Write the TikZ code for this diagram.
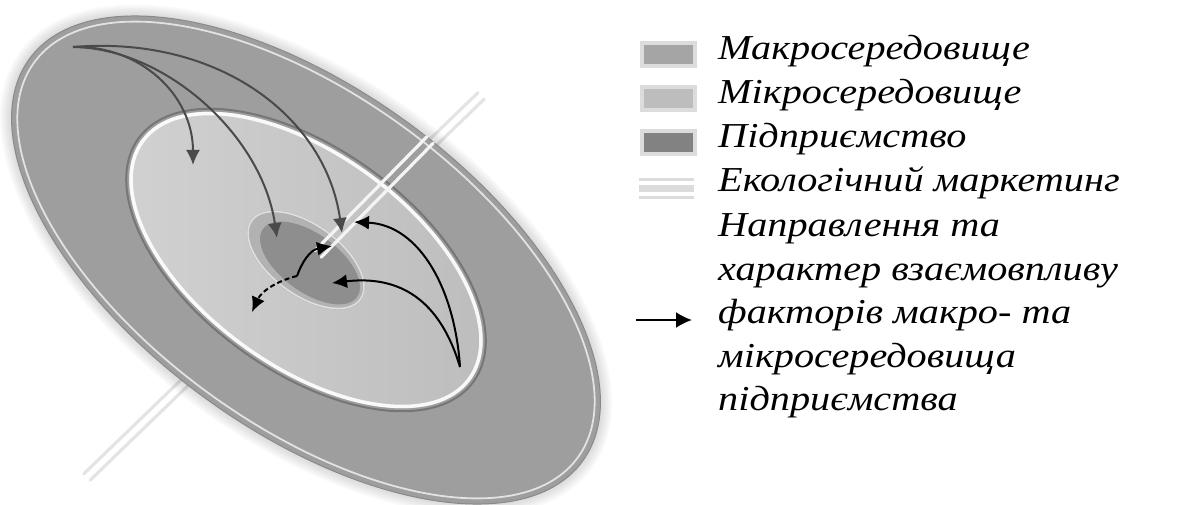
\documentclass[tikz,border=0pt]{standalone}
\usepackage{fontspec}
\setmainfont[FakeStretch=1.15]{Liberation Serif}
\usetikzlibrary{arrows.meta,calc}
\definecolor{macro}{HTML}{9E9E9E}
\definecolor{macroedge}{HTML}{8A8A8A}
\definecolor{microA}{HTML}{D2D2D2}
\definecolor{microB}{HTML}{BCBCBC}
\definecolor{entrim}{HTML}{B2B2B2}
\definecolor{ent}{HTML}{8E8E8E}
\definecolor{legborder}{HTML}{DCDCDC}
\definecolor{lmacro}{HTML}{A5A5A5}
\definecolor{lmicro}{HTML}{BDBDBD}
\definecolor{lent}{HTML}{828282}
\definecolor{arrgray}{HTML}{4A4A4A}
\definecolor{rodfaint}{HTML}{E4E4E4}
\definecolor{rodfront}{HTML}{F4F4F4}
\tikzset{
  legbox/.style={draw=legborder, line width=4pt, minimum width=53pt, minimum height=23pt, inner sep=0pt},
  legtext/.style={anchor=base west, inner sep=0pt, font=\fontsize{35}{44}\selectfont\itshape},
  grayarrow/.style={draw=arrgray, line width=2pt, -{Latex[length=15pt,width=14pt]}},
  blackarrow/.style={draw=black, line width=2pt, -{Latex[length=15pt,width=14pt]}},
  rodline/.style={line width=3.2pt, line cap=round},
}
\begin{document}
\begin{tikzpicture}[x=1pt,y=-1pt]
\useasboundingbox (0,0) rectangle (1193,505);
% rod coordinates
\coordinate (U) at (481,96);
\coordinate (L) at (87,477);
\coordinate (E) at (430,140);
\coordinate (C) at (318,254);
% rod, behind the disc
\draw[rodline, rodfaint] ($(U)!4.5pt!90:(L)$) -- ($(L)!4.5pt!-90:(U)$);
\draw[rodline, rodfaint] ($(U)!4.5pt!-90:(L)$) -- ($(L)!4.5pt!90:(U)$);
% disc
\begin{scope}[shift={(306,260)}, rotate=-36]
  \foreach \k in {1,...,6}
    \fill[black, opacity=0.025] (0,0) ellipse [x radius={342pt+\k*2pt}, y radius={171pt+\k*2pt}];
  \fill[macro] (0,0) ellipse [x radius=342pt, y radius=171pt];
  \draw[macroedge, line width=1pt] (0,0) ellipse [x radius=342pt, y radius=171pt];
  \draw[white, opacity=0.7, line width=1.8pt] (0,0) ellipse [x radius=336pt, y radius=165pt];
  \draw[black, opacity=0.25, line width=2pt] (0,0) ellipse [x radius=207pt, y radius=111pt];
  \shade[left color=microA, right color=microB] (0,0) ellipse [x radius=204pt, y radius=108pt];
  \draw[white, opacity=0.9, line width=3.5pt] (0,0) ellipse [x radius=202pt, y radius=106pt];
  \fill[entrim] (0,0) ellipse [x radius=68pt, y radius=36pt];
  \draw[white, opacity=0.6, line width=1.5pt] (0,0) ellipse [x radius=67pt, y radius=35pt];
\end{scope}
\fill[ent, rotate around={-36:(310,263)}] (310,263) ellipse [x radius=58pt, y radius=29pt];
% rod in front
\draw[rodline, rodfront] ($(E)!4.5pt!90:(L)$) -- ($(C)!4.5pt!-90:(U)$);
\draw[rodline, rodfront] ($(E)!4.5pt!-90:(L)$) -- ($(C)!4.5pt!90:(U)$);
% arrows from macro environment
\coordinate (src) at (73,47);
\coordinate (t1) at (193,165);
\coordinate (t2) at (277,238);
\coordinate (t3) at (342,233);
\draw[grayarrow] (src) .. controls (140,45) and (193,95) .. (t1);
\draw[grayarrow] (src) .. controls (165,48) and (262,135) .. (t2);
\draw[grayarrow] (src) .. controls (220,35) and (326,118) .. (t3);
% arrows from the micro environment
\coordinate (rsrc) at (460,367);
\coordinate (t4) at (354,222);
\coordinate (t5) at (332,283);
\draw[blackarrow] (rsrc) .. controls (455,290) and (420,225) .. (t4);
\draw[blackarrow] (rsrc) .. controls (440,300) and (400,275) .. (t5);
% enterprise outward
\coordinate (m) at (297,276);
\coordinate (t6) at (332,246);
\coordinate (t7) at (252,312);
\draw[blackarrow] (m) .. controls (302,262) and (310,250) .. (t6);
\draw[blackarrow, dash pattern=on 5pt off 3pt] (m) .. controls (280,280) and (262,290) .. (t7);
% legend
\node[legbox, fill=lmacro] (k1) at (668.5,54.5) {};
\node[legbox, fill=lmicro] (k2) at (668.5,98.5) {};
\node[legbox, fill=lent] (k3) at (668.5,142.5) {};
\draw[legborder, line width=3pt] (639,179.5) -- (694,179.5);
\draw[legborder, line width=7pt] (639,188.5) -- (694,188.5);
\draw[legborder, line width=3pt] (639,197.5) -- (694,197.5);
\coordinate (la1) at (636,320);
\coordinate (la2) at (692,320);
\draw[black, line width=2pt, -{Latex[length=16pt,width=16pt]}] (la1) -- (la2);
\node[legtext] (l1) at (718,60) {Макросередовище};
\node[legtext] (l2) at (718,104) {Мікросередовище};
\node[legtext] (l3) at (718,148) {Підприємство};
\node[legtext] (l4) at (718,192) {Екологічний маркетинг};
\node[legtext] (l5) at (718,236) {Направлення та};
\node[legtext] (l6) at (718,280) {характер взаємовпливу};
\node[legtext] (l7) at (718,323) {факторів макро- та};
\node[legtext] (l8) at (718,367) {мікросередовища};
\node[legtext] (l9) at (718,410) {підприємства};
\end{tikzpicture}
\end{document}
